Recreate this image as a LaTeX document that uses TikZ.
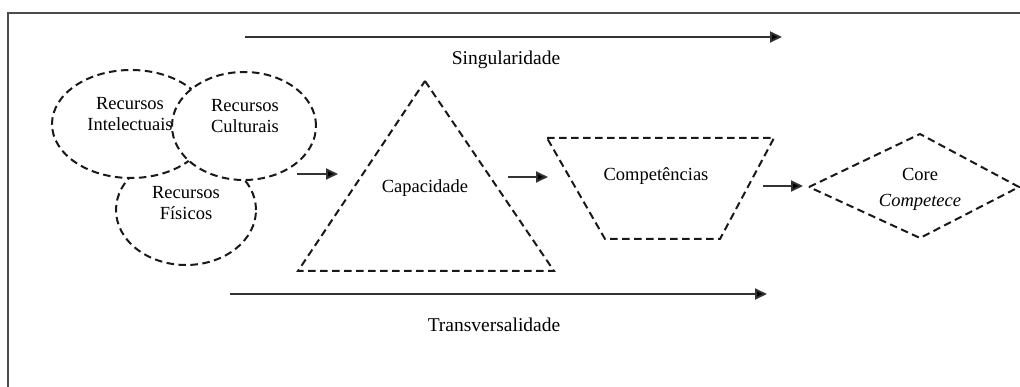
\documentclass[tikz,border=0pt]{standalone}
\usepackage{fontspec}
\setmainfont{Liberation Serif}
\usetikzlibrary{arrows.meta,shapes.geometric}
\begin{document}
\begin{tikzpicture}[x=1pt,y=-1pt,
  outline/.style={draw=black!90, line width=2pt, dash pattern=on 7.5pt off 4.5pt, fill=white},
  flow/.style={draw=black!80, line width=1.8pt, -{Triangle[length=12pt,width=11pt,fill=black]}},
  lbl/.style={font=\fontsize{18.5}{21}\selectfont, align=center, inner sep=0pt, text=black},
  axislbl/.style={font=\fontsize{19.5}{22}\selectfont, inner sep=0pt, text=black}]
\useasboundingbox (0,0) rectangle (1020,387);

% frame
\draw[draw=black!70, line width=1.6pt] (8,395) -- (8,13) -- (1030,13);

% resources (drawn bottom to top, white-filled)
\node[outline, ellipse, minimum width=140pt, minimum height=110pt] (fis) at (186,210) {};
\node[outline, ellipse, minimum width=158pt, minimum height=108pt] (int) at (131,124) {};
\node[outline, ellipse, minimum width=144pt, minimum height=108pt] (cul) at (244,126) {};
\node[lbl] (tint) at (130,114) {Recursos\\Intelectuais};
\node[lbl] (tcul) at (245,116) {Recursos\\Culturais};
\node[lbl] (tfis) at (186,203) {Recursos\\Físicos};

% capacity triangle
\draw[outline] (425,81) coordinate (capT) -- (554,271) coordinate (capR)
  -- (298,271) coordinate (capL) -- cycle;
\node[lbl] (cap) at (425,188) {Capacidade};

% competences trapezoid
\draw[outline] (547,138) coordinate (cTL) -- (774,138) coordinate (cTR)
  -- (720,239) coordinate (cBR) -- (605,239) coordinate (cBL) -- cycle;
\node[lbl] (comp) at (656,176) {Competências};

% core competence diamond
\draw[outline] (809,187) coordinate (dL) -- (920,134) coordinate (dT)
  -- (1019,187) coordinate (dR) -- (920,238) coordinate (dB) -- cycle;
\node[lbl] (core) at (920,189) {Core\\[5pt]\textit{Competece}};

% flow arrows
\coordinate (a1s) at (297,174); \coordinate (a1e) at (338,174);
\coordinate (a2s) at (508,177); \coordinate (a2e) at (548,177);
\coordinate (a3s) at (763,186); \coordinate (a3e) at (803,186);
\draw[flow] (a1s) -- (a1e);
\draw[flow] (a2s) -- (a2e);
\draw[flow] (a3s) -- (a3e);

% axes
\coordinate (sgS) at (245,37); \coordinate (sgE) at (782,37);
\coordinate (trS) at (230,294); \coordinate (trE) at (767,294);
\draw[flow] (sgS) -- (sgE);
\draw[flow] (trS) -- (trE);
\node[axislbl] (sing) at (506,60) {Singularidade};
\node[axislbl] (trans) at (494,325) {Transversalidade};
\end{tikzpicture}
\end{document}
